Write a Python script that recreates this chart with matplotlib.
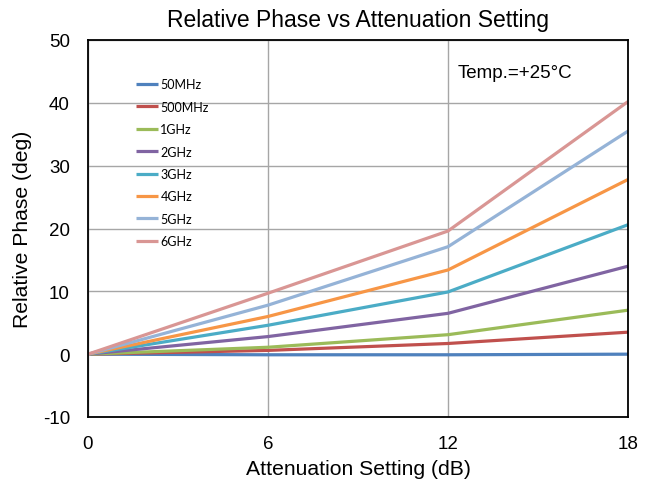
import matplotlib
matplotlib.use("Agg")
import matplotlib.pyplot as plt

plt.rcParams['font.family'] = ['Liberation Sans', 'DejaVu Sans']
plt.rcParams['axes.unicode_minus'] = False

atten = [0, 6, 12, 18]
labels = ["50MHz", "500MHz", "1GHz", "2GHz", "3GHz", "4GHz", "5GHz", "6GHz"]
s50m = [0, -0.1, -0.1, 0.0]
s500m = [0, 0.6, 1.7, 3.5]
s1g = [0, 1.1, 3.1, 7.0]
s2g = [0, 2.8, 6.5, 14.0]
s3g = [0, 4.6, 9.9, 20.6]
s4g = [0, 6.0, 13.4, 27.8]
s5g = [0, 7.8, 17.1, 35.5]
s6g = [0, 9.7, 19.6, 40.2]
series = [s50m, s500m, s1g, s2g, s3g, s4g, s5g, s6g]
colors = ["#4F81BD", "#C0504D", "#9BBB59", "#8064A2", "#4BACC6", "#F79646", "#95B3D7", "#D99694"]

fig = plt.figure(figsize=(6.54, 4.85), dpi=100)
ax = fig.add_axes([88/654, 1-418/485, (628-88)/654, (418-41)/485])

for s, lab, c in zip(series, labels, colors):
    ax.plot(atten, s, color=c, lw=2.3, label=lab, solid_capstyle='butt')

ax.set_xlim(0, 18)
ax.set_ylim(-10, 50)
ax.set_xticks([0, 6, 12, 18])
ax.set_yticks(range(-10, 51, 10))
ax.grid(True, color="#A6A6A6", lw=1.0)
ax.set_axisbelow(True)
ax.tick_params(length=0, labelsize=13.5)
ax.tick_params(axis='x', pad=13)
ax.tick_params(axis='y', pad=13)
for sp in ax.spines.values():
    sp.set_color("black")
    sp.set_linewidth(1.3)

ax.set_title("Relative Phase vs Attenuation Setting", fontsize=16.5, pad=10)
ax.set_xlabel("Attenuation Setting (dB)", fontsize=15.2, labelpad=5)
ax.set_ylabel("Relative Phase (deg)", fontsize=15.2, labelpad=8)

ax.text(0.685, 0.913, "Temp.=+25°C", transform=ax.transAxes, fontsize=13.5, va='center')

leg = ax.legend(loc='upper left', bbox_to_anchor=(0.068, 0.928), frameon=False,
                handlelength=1.75, handletextpad=0.2, labelspacing=0.83,
                prop={'family': ['Lato', 'DejaVu Sans'], 'size': 9})

fig.savefig("out.png", dpi=100)
